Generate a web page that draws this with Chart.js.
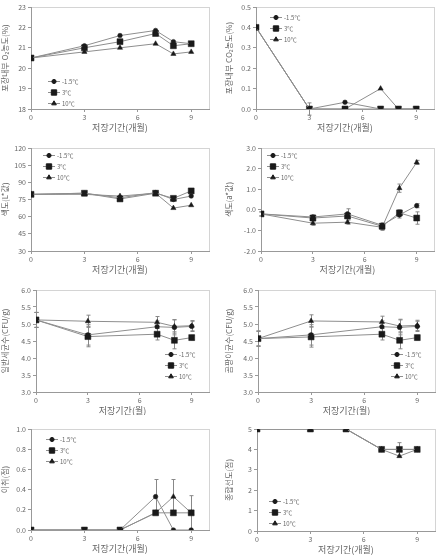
<!DOCTYPE html>
<html>
<head>
<meta charset="utf-8">
<script src="https://cdn.jsdelivr.net/npm/chart.js@4.4.0/dist/chart.umd.min.js"></script>
<style>
  body { margin: 0; background: #fff; width: 447px; height: 556px; position: relative; overflow: hidden; }
  .cell { position: absolute; }
</style>
</head>
<body>
<div class="cell" style="left:0;top:0;width:224px;height:140px"><canvas id="p1"></canvas></div>
<div class="cell" style="left:224px;top:0;width:223px;height:140px"><canvas id="p2"></canvas></div>
<div class="cell" style="left:0;top:135px;width:224px;height:140px"><canvas id="p3"></canvas></div>
<div class="cell" style="left:224px;top:135px;width:223px;height:140px"><canvas id="p4"></canvas></div>
<div class="cell" style="left:0;top:275px;width:224px;height:140px"><canvas id="p5"></canvas></div>
<div class="cell" style="left:224px;top:275px;width:223px;height:140px"><canvas id="p6"></canvas></div>
<div class="cell" style="left:0;top:415px;width:224px;height:141px"><canvas id="p7"></canvas></div>
<div class="cell" style="left:224px;top:415px;width:223px;height:141px"><canvas id="p8"></canvas></div>
<script>
const seriesNames = ["-1.5℃", "3℃", "10℃"];
const xTicks = [0, 3, 6, 9];
const monthsA = [0, 3, 5, 7, 8, 9];
const monthsB = [0, 3, 7, 8, 9];

// 포장내부 O2
const o2Cold = [20.5, 21.1, 21.6, 21.85, 21.3, 21.2];
const o2Mid = [20.5, 21.0, 21.3, 21.7, 21.1, 21.2];
const o2Warm = [20.5, 20.8, 21.0, 21.2, 20.7, 20.8];

// 포장내부 CO2
const co2Cold = [0.4, 0, 0.033, 0, 0, 0];
const co2Mid = [0.4, 0, 0, 0, 0, 0];
const co2Warm = [0.4, 0, 0, 0.1, 0, 0];
const co2WarmErr = [0, 0.03, 0, 0, 0, 0];

// 색도 L*
const lCold = [79.5, 80.5, 76.5, 81, 75, 78];
const lMid = [79.5, 80.5, 75.5, 80.5, 76, 82.5];
const lWarm = [79.5, 79.5, 78, 80.5, 67.5, 70];

// 색도 a*
const aCold = [-0.2, -0.35, -0.2, -0.75, -0.25, 0.2];
const aMid = [-0.2, -0.4, -0.3, -0.8, -0.15, -0.4];
const aWarm = [-0.2, -0.65, -0.6, -0.85, 1.05, 2.3];
const aColdErr = [0.1, 0.1, 0.25, 0.1, 0.15, 0.1];
const aMidErr = [0.1, 0.1, 0.1, 0.15, 0.15, 0.3];
const aWarmErr = [0.1, 0.1, 0.1, 0.15, 0.2, 0.1];

// 일반세균수
const bactCold = [5.12, 4.68, 4.92, 4.9, 4.93];
const bactMid = [5.12, 4.63, 4.7, 4.52, 4.6];
const bactWarm = [5.12, 5.08, 5.05, 4.93, 4.95];
const bactColdErr = [0.22, 0.3, 0.17, 0.22, 0.15];
const bactMidErr = [0.22, 0.3, 0.17, 0.25, 0.07];
const bactWarmErr = [0.22, 0.18, 0.17, 0.2, 0.15];

// 곰팡이균수
const moldCold = [4.57, 4.68, 4.92, 4.9, 4.93];
const moldMid = [4.57, 4.62, 4.7, 4.52, 4.6];
const moldWarm = [4.57, 5.09, 5.06, 4.94, 4.96];
const moldColdErr = [0.22, 0.3, 0.17, 0.22, 0.15];
const moldMidErr = [0.22, 0.3, 0.17, 0.25, 0.07];
const moldWarmErr = [0.22, 0.18, 0.17, 0.2, 0.15];

// 이취
const offCold = [0, 0, 0, 0.33, 0, 0];
const offMid = [0, 0, 0, 0.17, 0.17, 0.17];
const offWarm = [0, 0, 0, 0.17, 0.33, 0.17];
const offColdErr = [0, 0, 0, 0.17, 0, 0];
const offMidErr = [0, 0, 0, 0, 0, 0.17];
const offWarmErr = [0, 0, 0, 0, 0.17, 0];

// 종합선도
const allCold = [5, 5, 5, 4, 4, 4];
const allMid = [5, 5, 5, 4, 4, 4];
const allWarm = [5, 5, 5, 4, 3.67, 4];
const allMidErr = [0, 0, 0, 0, 0.33, 0];

const LINE = "#8e8e8e";
const INK = "#1a1a1a";
const TXT = "#666";
const FONT = "'Noto Sans CJK KR', 'Noto Sans', sans-serif";
const markers = [
  { style: "circle", radius: 2.3 },
  { style: "rect", radius: 4.2 },
  { style: "triangle", radius: 3 },
];

const panels = [
  { id: "p1", w: 224, h: 140, area: [31, 7, 209, 109], y: [18, 23, 1, 0],
    yTitle: "포장내부 O₂농도(%)", xTitle: "저장기간(개월)", x: monthsA,
    series: [o2Cold, o2Mid, o2Warm], err: [null, null, null], legend: [48, 81] },
  { id: "p2", w: 223, h: 140, area: [32, 7, 210, 109], y: [0, 0.5, 0.1, 1],
    yTitle: "포장내부 CO₂농도(%)", xTitle: "저장기간(개월)", x: monthsA,
    series: [co2Cold, co2Mid, co2Warm], err: [null, null, co2WarmErr], legend: [46, 17] },
  { id: "p3", w: 224, h: 140, area: [31, 13, 209, 116], y: [30, 120, 15, 0],
    yTitle: "색도(L*값)", xTitle: "저장기간(개월)", x: monthsA,
    series: [lCold, lMid, lWarm], err: [null, null, null], legend: [43, 20] },
  { id: "p4", w: 223, h: 140, area: [37, 13, 210, 116], y: [-2, 3, 1, 1],
    yTitle: "색도(a*값)", xTitle: "저장기간(개월)", x: monthsA,
    series: [aCold, aMid, aWarm], err: [aColdErr, aMidErr, aWarmErr], legend: [43, 20] },
  { id: "p5", w: 224, h: 140, area: [36, 15, 209, 117], y: [3, 6, 0.5, 1],
    yTitle: "일반세균수(CFU/g)", xTitle: "저장기간(월)", x: monthsB,
    series: [bactCold, bactMid, bactWarm], err: [bactColdErr, bactMidErr, bactWarmErr], legend: [165, 79] },
  { id: "p6", w: 223, h: 140, area: [34, 15, 211, 117], y: [3, 6, 0.5, 1],
    yTitle: "곰팡이균수(CFU/g)", xTitle: "저장기간(월)", x: monthsB,
    series: [moldCold, moldMid, moldWarm], err: [moldColdErr, moldMidErr, moldWarmErr], legend: [167, 79] },
  { id: "p7", w: 224, h: 141, area: [31, 14, 209, 115], y: [0, 1, 0.2, 1],
    yTitle: "이취(점)", xTitle: "저장기간(개월)", x: monthsA,
    series: [offCold, offMid, offWarm], err: [offColdErr, offMidErr, offWarmErr], legend: [46, 24] },
  { id: "p8", w: 223, h: 141, area: [33, 14, 211, 116], y: [0, 5, 1, 0],
    yTitle: "종합선도(점)", xTitle: "저장기간(개월)", x: monthsA,
    series: [allCold, allMid, allWarm], err: [null, allMidErr, null], legend: [45, 86] },
];

const framePlugin = {
  id: "frame",
  beforeDraw(chart) {
    const { ctx, chartArea: a } = chart;
    ctx.save();
    ctx.strokeStyle = "#d4d4d4";
    ctx.lineWidth = 1;
    ctx.strokeRect(Math.round(a.left) + 0.5, Math.round(a.top) + 0.5, Math.round(a.width), Math.round(a.height));
    ctx.restore();
  },
};

const errorPlugin = {
  id: "errorBars",
  beforeDatasetsDraw(chart) {
    const { ctx } = chart;
    const ys = chart.scales.y;
    ctx.save();
    ctx.strokeStyle = "#888";
    ctx.lineWidth = 1;
    chart.data.datasets.forEach((ds, i) => {
      if (!ds.errors) return;
      const meta = chart.getDatasetMeta(i);
      ds.errors.forEach((e, j) => {
        if (!e) return;
        const pt = meta.data[j];
        const top = ys.getPixelForValue(ds.data[j].y + e);
        const bot = ys.getPixelForValue(ds.data[j].y - e);
        const x = Math.round(pt.x) + 0.5;
        ctx.beginPath();
        ctx.moveTo(x, top); ctx.lineTo(x, bot);
        ctx.moveTo(x - 2, top); ctx.lineTo(x + 2, top);
        ctx.moveTo(x - 2, bot); ctx.lineTo(x + 2, bot);
        ctx.stroke();
      });
    });
    ctx.restore();
  },
};

const legendPlugin = {
  id: "miniLegend",
  afterDraw(chart, args, opts) {
    const { ctx } = chart;
    ctx.save();
    chart.data.datasets.forEach((ds, i) => {
      const x = opts.x, y = opts.y + i * 11;
      ctx.strokeStyle = LINE;
      ctx.lineWidth = 1;
      ctx.beginPath();
      ctx.moveTo(x, y + 0.5); ctx.lineTo(x + 12, y + 0.5);
      ctx.stroke();
      ctx.fillStyle = INK;
      ctx.strokeStyle = INK;
      Chart.helpers.drawPoint(ctx, { pointStyle: ds.pointStyle, radius: ds.pointRadius * 0.9, borderWidth: 0.5, rotation: 0 }, x + 6, y + 0.5);
      ctx.fillStyle = TXT;
      ctx.font = "6px " + FONT;
      ctx.textBaseline = "middle";
      ctx.fillText(ds.label, x + 14, y + 1);
    });
    ctx.restore();
  },
};

function buildChart(p) {
  const [l, t, r, b] = p.area;
  const [yMin, yMax, yStep, dec] = p.y;
  const datasets = p.series.map((vals, i) => ({
    label: seriesNames[i],
    data: vals.map((v, j) => ({ x: p.x[j], y: v })),
    errors: p.err[i],
    borderColor: LINE,
    borderWidth: 1,
    pointStyle: markers[i].style,
    pointRadius: markers[i].radius,
    pointBackgroundColor: INK,
    pointBorderColor: INK,
    pointBorderWidth: 0.5,
    tension: 0,
  }));

  new Chart(document.getElementById(p.id), {
    type: "line",
    data: { datasets },
    plugins: [framePlugin, errorPlugin, legendPlugin],
    options: {
      responsive: false,
      animation: false,
      layout: { padding: { top: t, right: p.w - r, bottom: p.h - b - 26, left: 0 } },
      plugins: {
        legend: { display: false },
        tooltip: { enabled: false },
        miniLegend: { x: p.legend[0], y: p.legend[1] },
      },
      scales: {
        x: {
          type: "linear",
          min: 0,
          max: 10,
          afterBuildTicks: (scale) => { scale.ticks = xTicks.map((v) => ({ value: v })); },
          afterFit: (scale) => { scale.height = 26; },
          grid: { drawOnChartArea: false, drawTicks: true, tickLength: 3, color: "#999" },
          border: { color: "#999" },
          ticks: { color: TXT, font: { size: 7, family: FONT }, padding: 1, maxRotation: 0 },
          title: { display: true, text: p.xTitle, color: TXT, font: { size: 9, family: FONT }, padding: { top: 0, bottom: 2 } },
        },
        y: {
          min: yMin,
          max: yMax,
          afterFit: (scale) => { scale.width = l; },
          grid: { drawOnChartArea: false, drawTicks: true, tickLength: 3, color: "#999" },
          border: { color: "#999" },
          ticks: { stepSize: yStep, color: TXT, font: { size: 7, family: FONT }, padding: 2,
                   callback: (v) => Number(v).toFixed(dec) },
          title: { display: true, text: p.yTitle, color: TXT, font: { size: 8, family: FONT }, padding: { top: 0, bottom: 0 } },
        },
      },
    },
  });
}

panels.forEach((p) => {
  const c = document.getElementById(p.id);
  c.width = p.w;
  c.height = p.h;
  buildChart(p);
});
</script>
</body>
</html>
